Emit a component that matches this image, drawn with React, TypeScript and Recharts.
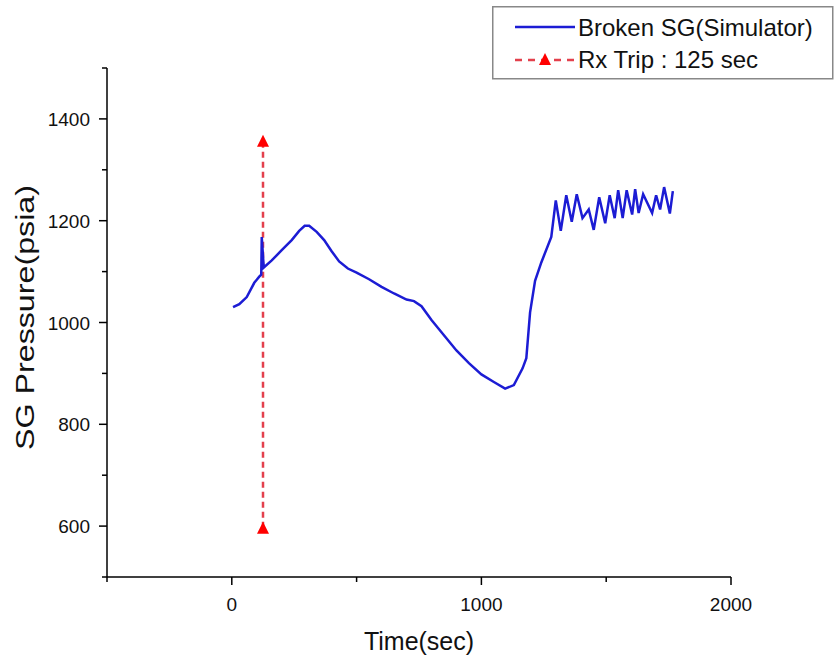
import React from 'react';
import { LineChart, Line, XAxis, YAxis, Legend } from 'recharts';

const FONT = '"Liberation Sans", Arial, sans-serif';

// Broken SG (Simulator) pressure trace
const brokenTime = [
  5, 30, 60, 90, 110, 118, 120, 128, 160, 200, 240, 270, 292, 310, 340, 370, 400, 430, 465,
  500, 550, 600, 650, 700, 730, 760, 800, 850, 900, 950, 1000, 1050, 1095, 1130, 1165, 1180,
  1195, 1215, 1240, 1280, 1298, 1318, 1340, 1362, 1382, 1405, 1430, 1450, 1472, 1496, 1514,
  1534, 1548, 1566, 1582, 1604, 1616, 1630, 1648, 1684, 1700, 1716, 1732, 1755, 1767,
];
const brokenPressure = [
  1030, 1036, 1050, 1078, 1090, 1094, 1168, 1108, 1122, 1142, 1162, 1180, 1190, 1190, 1178,
  1162, 1140, 1120, 1106, 1098, 1085, 1070, 1057, 1045, 1042, 1032, 1005, 975, 945, 920, 898,
  883, 870, 877, 910, 930, 1020, 1082, 1118, 1168, 1240, 1180, 1250, 1198, 1252, 1205, 1222,
  1182, 1246, 1195, 1250, 1205, 1260, 1205, 1260, 1212, 1262, 1215, 1252, 1215, 1250, 1222,
  1266, 1214, 1258,
];

// Rx Trip marker
const tripTime = [125, 125];
const tripPressure = [1355, 595];

// Axis ticks
const xTicks = [-500, 0, 500, 1000, 1500, 2000];
const xLabels = [0, 1000, 2000];
const yTicks = [500, 600, 700, 800, 900, 1000, 1100, 1200, 1300, 1400, 1500];
const yLabels = [600, 800, 1000, 1200, 1400];

const seriesNames = ['Broken SG(Simulator)', 'Rx Trip : 125 sec'];

const brokenData = brokenTime.map((t, i) => ({ x: t, y: brokenPressure[i] }));
const tripData = tripTime.map((t, i) => ({ x: t, y: tripPressure[i] }));

const BLUE = '#1c1cd4';
const RED = '#e3404c';

const XTick = (props: any) => {
  const { x, y, payload } = props;
  const major = xLabels.includes(payload.value);
  return (
    <g>
      <line x1={x} x2={x} y1={y} y2={y + (major ? 8 : 5)} stroke="#000" strokeWidth={1.5} />
      {major && (
        <text x={x} y={y + 34} textAnchor="middle" fontSize={19} fill="#111" fontFamily={FONT}>
          {payload.value}
        </text>
      )}
    </g>
  );
};

const YTick = (props: any) => {
  const { x, y, payload } = props;
  const major = yLabels.includes(payload.value);
  return (
    <g>
      <line x1={x} x2={x - (major ? 8 : 5)} y1={y} y2={y} stroke="#000" strokeWidth={1.5} />
      {major && (
        <text x={x - 17} y={y + 7} textAnchor="end" fontSize={19} fill="#111" fontFamily={FONT}>
          {payload.value}
        </text>
      )}
    </g>
  );
};

const TriDot = (props: any) => {
  const { cx, cy } = props;
  if (cx == null || cy == null) return null;
  return <polygon points={`${cx},${cy - 7} ${cx - 6},${cy + 5} ${cx + 6},${cy + 5}`} fill="#ff0000" />;
};

const LegendBox = () => (
  <svg width={342} height={74} style={{ display: 'block' }}>
    <rect x={0.75} y={0.75} width={340} height={72} fill="#fff" stroke="#888" strokeWidth={1.5} />
    <line x1={23} x2={83} y1={21} y2={21} stroke={BLUE} strokeWidth={2.5} />
    <text x={86} y={30} fontSize={24} fill="#111" fontFamily={FONT}>{seriesNames[0]}</text>
    <line x1={23} x2={83} y1={54} y2={54} stroke={RED} strokeWidth={2.5} strokeDasharray="7 6" />
    <polygon points="53,47 47,59 59,59" fill="#ff0000" />
    <text x={86} y={62} fontSize={24} fill="#111" fontFamily={FONT}>{seriesNames[1]}</text>
  </svg>
);

const XTitle = (props: any) => {
  const vb = props.viewBox || {};
  return (
    <text x={vb.x + vb.width / 2} y={vb.y + 73} textAnchor="middle" fontSize={25} fill="#111" fontFamily={FONT}>
      Time(sec)
    </text>
  );
};

const YTitle = (props: any) => {
  const vb = props.viewBox || {};
  const cx = 25;
  const cy = vb.y + vb.height / 2 - 5;
  return (
    <text
      x={cx}
      y={cy}
      transform={`rotate(-90, ${cx}, ${cy})`}
      textAnchor="middle"
      dominantBaseline="central"
      fontSize={25}
      fill="#111"
      fontFamily={FONT}
      textLength={265}
      lengthAdjust="spacingAndGlyphs"
    >
      SG Pressure(psia)
    </text>
  );
};

export default function App() {
  return (
    <div style={{ position: 'absolute', left: 0, top: 0, width: 835, height: 663, background: '#fff' }}>
      <LineChart width={835} height={663} margin={{ top: 68, right: 104, bottom: 0, left: 0 }}>
        <XAxis
          type="number"
          dataKey="x"
          domain={[-500, 2000]}
          ticks={xTicks}
          interval={0}
          allowDataOverflow
          height={86}
          axisLine={{ stroke: '#000', strokeWidth: 1.5 }}
          tickLine={false}
          tickSize={0}
          tickMargin={0}
          tick={<XTick />}
          label={{ value: 'Time(sec)', content: <XTitle /> }}
        />
        <YAxis
          type="number"
          domain={[500, 1500]}
          ticks={yTicks}
          interval={0}
          allowDataOverflow
          width={107}
          axisLine={{ stroke: '#000', strokeWidth: 1.5 }}
          tickLine={false}
          tickSize={0}
          tickMargin={0}
          tick={<YTick />}
          label={{ value: 'SG Pressure(psia)', content: <YTitle /> }}
        />
        <Legend
          layout="horizontal"
          verticalAlign="middle"
          align="center"
          wrapperStyle={{ position: 'absolute', left: 492, top: 6, width: 342, height: 74 }}
          content={() => <LegendBox />}
        />
        <Line
          data={tripData}
          dataKey="y"
          type="linear"
          stroke={RED}
          strokeWidth={2.5}
          strokeDasharray="6 4"
          dot={<TriDot />}
          activeDot={false}
          isAnimationActive={false}
          name={seriesNames[1]}
        />
        <Line
          data={brokenData}
          dataKey="y"
          type="linear"
          stroke={BLUE}
          strokeWidth={2.5}
          dot={false}
          activeDot={false}
          isAnimationActive={false}
          name={seriesNames[0]}
        />
      </LineChart>
    </div>
  );
}
